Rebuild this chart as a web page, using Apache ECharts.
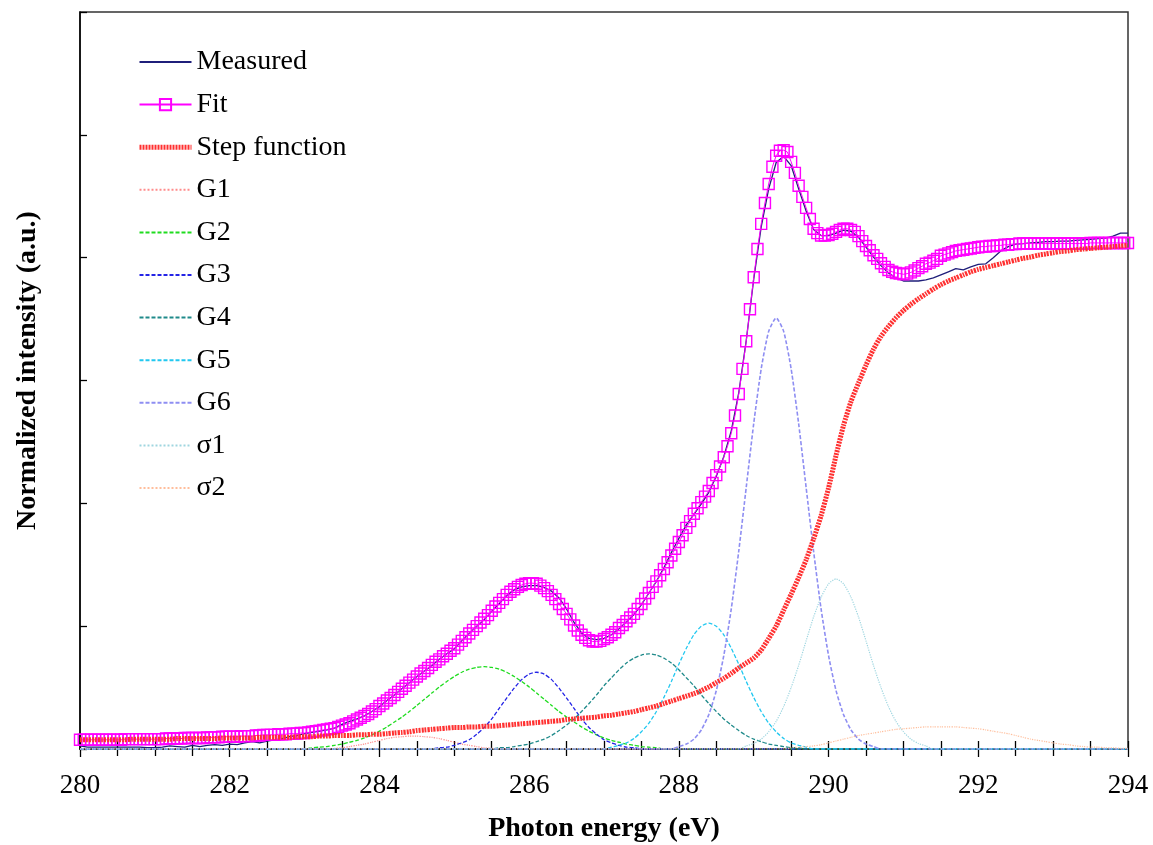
<!DOCTYPE html>
<html>
<head>
<meta charset="utf-8">
<title>C K-edge NEXAFS fit</title>
<script src="https://cdn.jsdelivr.net/npm/echarts@6/dist/echarts.min.js"></script>
<style>
  html, body { margin: 0; padding: 0; background: #ffffff; }
  #chart { width: 1153px; height: 845px; }
</style>
</head>
<body>
<div id="chart"></div>
<script>
// Photon energy range (eV) and tick labels
const energyMin = 280;
const energyMax = 294;
const energyTicks = [280, 282, 284, 286, 288, 290, 292, 294];

// Legend names
const seriesNames = ['Measured', 'Fit', 'Step function', 'G1', 'G2', 'G3', 'G4', 'G5', 'G6', 'σ1', 'σ2'];

// Fit: sampled every 0.05 eV from 280.00 to 294.00
const fitStart = 280, fitStep = 0.05;
const fitValues = [
  0.015,0.015,0.015,0.015,0.015,0.015,0.015,0.015,0.015,0.015,0.015,0.015,0.016,0.016,0.016,0.016,0.016,0.016,0.016,0.016,
  0.016,0.016,0.016,0.017,0.017,0.017,0.017,0.017,0.018,0.018,0.018,0.018,0.018,0.018,0.019,0.019,0.019,0.019,0.020,0.020,
  0.020,0.020,0.020,0.021,0.021,0.021,0.021,0.022,0.022,0.023,0.023,0.023,0.023,0.024,0.024,0.024,0.025,0.025,0.025,0.026,
  0.026,0.027,0.028,0.029,0.030,0.031,0.032,0.033,0.034,0.036,0.038,0.040,0.042,0.045,0.048,0.051,0.054,0.057,0.061,0.065,
  0.070,0.074,0.079,0.083,0.088,0.093,0.098,0.103,0.108,0.113,0.118,0.123,0.127,0.132,0.137,0.142,0.146,0.151,0.155,0.160,
  0.164,0.170,0.176,0.182,0.188,0.194,0.200,0.206,0.212,0.218,0.225,0.232,0.238,0.244,0.251,0.256,0.260,0.264,0.267,0.269,
  0.270,0.270,0.269,0.266,0.262,0.257,0.251,0.244,0.236,0.228,0.220,0.211,0.201,0.193,0.186,0.181,0.177,0.175,0.175,0.176,
  0.179,0.182,0.186,0.190,0.197,0.202,0.208,0.214,0.220,0.228,0.236,0.245,0.254,0.264,0.273,0.283,0.293,0.304,0.315,0.326,
  0.337,0.348,0.360,0.371,0.383,0.392,0.402,0.411,0.420,0.433,0.446,0.460,0.475,0.493,0.514,0.543,0.578,0.619,0.664,0.716,
  0.768,0.814,0.855,0.889,0.920,0.948,0.966,0.974,0.975,0.972,0.956,0.938,0.917,0.899,0.881,0.863,0.847,0.840,0.836,0.836,
  0.837,0.839,0.842,0.845,0.847,0.847,0.845,0.842,0.835,0.827,0.819,0.812,0.804,0.798,0.791,0.785,0.780,0.777,0.775,0.774,
  0.773,0.774,0.776,0.779,0.783,0.786,0.790,0.792,0.795,0.798,0.803,0.805,0.807,0.809,0.811,0.812,0.813,0.814,0.815,0.816,
  0.817,0.818,0.818,0.819,0.819,0.820,0.820,0.821,0.821,0.822,0.822,0.823,0.823,0.823,0.823,0.823,0.823,0.823,0.823,0.823,
  0.823,0.823,0.823,0.823,0.823,0.823,0.823,0.823,0.823,0.823,0.824,0.824,0.824,0.824,0.824,0.824,0.824,0.824,0.824,0.824,
  0.824
];

// Measured spectrum: every 0.1 eV from 280.0 to 294.0
const measuredStart = 280, measuredStep = 0.1;
const measuredValues = [
  0.005,0.003,0.003,0.003,0.003,0.003,0.003,0.003,0.003,0.002,
  0.002,0.003,0.005,0.004,0.003,0.006,0.004,0.006,0.007,0.006,
  0.008,0.007,0.010,0.012,0.010,0.013,0.015,0.017,0.020,0.022,
  0.025,0.027,0.029,0.031,0.034,0.040,0.045,0.049,0.054,0.061,
  0.069,0.079,0.088,0.098,0.108,0.118,0.127,0.136,0.146,0.155,
  0.163,0.176,0.188,0.200,0.211,0.224,0.237,0.250,0.259,0.264,
  0.266,0.266,0.263,0.257,0.246,0.228,0.206,0.189,0.180,0.178,
  0.180,0.186,0.196,0.207,0.219,0.235,0.254,0.273,0.295,0.320,
  0.343,0.365,0.382,0.399,0.418,0.444,0.476,0.518,0.580,0.665,
  0.765,0.850,0.912,0.955,0.965,0.950,0.912,0.876,0.846,0.836,
  0.836,0.840,0.845,0.843,0.833,0.817,0.801,0.787,0.775,0.767,
  0.762,0.762,0.762,0.764,0.767,0.772,0.777,0.782,0.780,0.785,
  0.789,0.790,0.800,0.811,0.818,0.822,0.823,0.824,0.825,0.826,
  0.826,0.827,0.827,0.828,0.829,0.830,0.831,0.832,0.835,0.840,
  0.840
];

// Step function (edge jump): every 0.1 eV from 280.0 to 294.0
const stepStart = 280, stepStep = 0.1;
const stepValues = [
  0.015,0.015,0.015,0.015,0.015,0.015,0.015,0.016,0.016,0.016,
  0.016,0.016,0.016,0.017,0.017,0.017,0.017,0.017,0.017,0.018,
  0.018,0.018,0.018,0.018,0.019,0.019,0.019,0.019,0.019,0.020,
  0.020,0.020,0.021,0.021,0.022,0.022,0.022,0.023,0.023,0.024,
  0.024,0.025,0.026,0.027,0.028,0.030,0.031,0.032,0.033,0.034,
  0.035,0.035,0.036,0.036,0.037,0.037,0.038,0.039,0.040,0.041,
  0.042,0.043,0.044,0.045,0.046,0.048,0.049,0.050,0.051,0.052,
  0.054,0.055,0.057,0.059,0.061,0.064,0.067,0.070,0.074,0.078,
  0.082,0.086,0.090,0.095,0.101,0.108,0.115,0.123,0.132,0.140,
  0.148,0.161,0.180,0.200,0.226,0.252,0.279,0.308,0.342,0.380,
  0.425,0.478,0.527,0.566,0.596,0.625,0.651,0.672,0.688,0.702,
  0.714,0.724,0.733,0.741,0.749,0.756,0.762,0.767,0.772,0.777,
  0.781,0.784,0.787,0.790,0.793,0.796,0.799,0.801,0.804,0.806,
  0.808,0.810,0.811,0.813,0.814,0.815,0.816,0.817,0.818,0.819,
  0.820
];

// Peak components, every 0.1 eV starting at the given energy
const componentStep = 0.1;
const g1Start = 283.3;
const g1Values = [0,0.001,0.002,0.004,0.006,0.008,0.011,0.014,0.017,0.019,0.020,0.021,0.021,0.020,0.019,0.017,0.014,0.011,0.008,0.006,0.004,0.002,0.001,0];
const g2Start = 283.0;
const g2Values = [0,0.002,0.003,0.004,0.006,0.008,0.011,0.014,0.018,0.023,0.029,0.036,0.044,0.052,0.061,0.071,0.081,0.091,0.101,0.110,0.118,0.125,0.130,0.133,
  0.134,
  0.133,0.130,0.125,0.118,0.110,0.101,0.091,0.081,0.071,0.061,0.052,0.044,0.036,0.029,0.023,0.018,0.014,0.011,0.008,0.006,0.004,0.003,0.002,0];
const g3Start = 284.7;
const g3Values = [0,0.002,0.003,0.006,0.010,0.015,0.024,0.035,0.049,0.066,0.083,0.099,0.113,0.122,
  0.125,
  0.122,0.113,0.099,0.083,0.066,0.049,0.035,0.024,0.015,0.010,0.006,0.003,0.002,0];
const g4Start = 285.5;
const g4Values = [0,0.002,0.002,0.004,0.006,0.008,0.012,0.016,0.022,0.030,0.039,0.049,0.061,0.074,0.088,0.103,0.116,0.129,0.140,0.148,0.153,
  0.155,
  0.153,0.148,0.140,0.129,0.116,0.103,0.088,0.074,0.061,0.049,0.039,0.030,0.022,0.016,0.012,0.008,0.006,0.004,0.002,0.002,0];
const g5Start = 287.0;
const g5Values = [0,0.003,0.006,0.010,0.017,0.028,0.042,0.061,0.084,0.110,0.138,0.164,0.186,0.200,
  0.205,
  0.200,0.186,0.164,0.138,0.110,0.084,0.061,0.042,0.028,0.017,0.010,0.006,0.003,0];
const g6Start = 287.9;
const g6Values = [0,0.004,0.008,0.016,0.031,0.056,0.095,0.152,0.228,0.322,0.426,0.530,0.619,0.680,
  0.702,
  0.680,0.619,0.530,0.426,0.322,0.228,0.152,0.095,0.056,0.031,0.016,0.008,0.004,0];
const s1Start = 288.8;
const s1Values = [0,0.005,0.009,0.016,0.028,0.045,0.069,0.100,0.136,0.176,0.215,0.247,0.269,
  0.277,
  0.269,0.247,0.215,0.176,0.136,0.100,0.069,0.045,0.028,0.016,0.009,0.005,0];
const s2Start = 289.4;
const s2Values = [0,0.002,0.003,0.004,0.005,0.007,
  0.010,0.013,0.016,0.019,0.022,0.024,0.026,0.028,0.030,0.032,
  0.033,0.034,0.035,0.036,0.036,0.036,0.036,0.036,0.035,0.034,
  0.033,0.031,0.029,0.027,0.025,0.022,0.019,0.016,0.014,0.012,
  0.010,0.008,0.007,0.005,0.004,0.003,0.003,0.002,0.002,0.001,
  0.001];

// Pair a regularly sampled value list with its energies
function sampled(start, step, values) {
  return values.map((v, i) => [Math.round((start + i * step) * 1000) / 1000, v]);
}
// Components sit on a zero baseline across the whole energy window
function component(start, values) {
  const pts = sampled(start, componentStep, values);
  if (pts[0][0] > energyMin) pts.unshift([energyMin, 0]);
  if (pts[pts.length - 1][0] < energyMax) pts.push([energyMax, 0]);
  return pts;
}

const serif = 'Liberation Serif';
const stepColor = '#ff3030';
const stepLine = { color: stepColor, width: 5, type: [2, 1] };

function compSeries(name, start, values, color, type, width) {
  return {
    name: name,
    type: 'line',
    data: component(start, values),
    symbol: 'none',
    smooth: 0.2,
    lineStyle: { color: color, width: width, type: type },
    itemStyle: { color: color },
    z: 4
  };
}

// Legend entries: only the fit keeps a marker in its key
const hiddenMarker = { color: 'rgba(0,0,0,0)', borderWidth: 0, opacity: 0 };
const legendData = seriesNames.map(n => {
  if (n === 'Fit') return { name: n };
  if (n === 'Step function') return { name: n, itemStyle: hiddenMarker, lineStyle: stepLine };
  return { name: n, itemStyle: hiddenMarker };
});

const chart = echarts.init(document.getElementById('chart'), null, { renderer: 'canvas' });

const tickStyle = { color: '#000', width: 1.3 };

chart.setOption({
  animation: false,
  backgroundColor: '#ffffff',
  grid: {
    left: 80, right: 25, top: 12, bottom: 96,
    outerBoundsMode: 'none',
    containLabel: false,
    show: true, borderColor: '#333', borderWidth: 1.5, backgroundColor: 'transparent'
  },
  legend: {
    orient: 'vertical',
    left: 137,
    top: 48,
    padding: 0,
    itemWidth: 52,
    itemHeight: 14,
    itemGap: 14.6,
    selectedMode: false,
    data: legendData,
    textStyle: { fontFamily: serif, fontSize: 28, color: '#000', lineHeight: 28 }
  },
  xAxis: [
    {
      type: 'value',
      position: 'bottom',
      min: energyMin, max: energyMax, interval: 2,
      name: 'Photon energy (eV)',
      nameLocation: 'middle',
      nameGap: 66,
      nameTextStyle: { fontFamily: serif, fontSize: 28, fontWeight: 'bold', color: '#000' },
      axisLine: { show: true, lineStyle: { color: '#000', width: 1.5 } },
      axisTick: { show: true, inside: false, length: 8, lineStyle: tickStyle },
      minorTick: { show: true, splitNumber: 4, length: 7, lineStyle: tickStyle },
      axisLabel: {
        fontFamily: serif, fontSize: 27, color: '#000', margin: 23,
        formatter: v => energyTicks.indexOf(v) >= 0 ? String(v) : ''
      },
      splitLine: { show: false },
      minorSplitLine: { show: false }
    },
    {
      type: 'value',
      position: 'bottom',
      min: energyMin, max: energyMax, interval: 2,
      axisLine: { show: false },
      axisTick: { show: true, inside: true, length: 8, lineStyle: tickStyle },
      minorTick: { show: true, splitNumber: 4, length: 8, lineStyle: tickStyle },
      axisLabel: { show: false },
      splitLine: { show: false }
    }
  ],
  yAxis: {
    type: 'value',
    min: 0, max: 1.2, interval: 0.2,
    name: 'Normalized intensity (a.u.)',
    nameLocation: 'middle',
    nameRotate: 90,
    nameGap: 38,
    nameTextStyle: { fontFamily: serif, fontSize: 28, fontWeight: 'bold', color: '#000', padding: [0, 0, 0, 20] },
    axisLine: { show: true, lineStyle: { color: '#000', width: 1.5 } },
    axisTick: { show: true, inside: true, length: 7, lineStyle: tickStyle },
    axisLabel: { show: false },
    splitLine: { show: false }
  },
  series: [
    {
      name: 'Measured',
      type: 'line',
      data: sampled(measuredStart, measuredStep, measuredValues),
      symbol: 'none',
      lineStyle: { color: '#1f1f7a', width: 1.3 },
      itemStyle: { color: '#1f1f7a' },
      z: 2
    },
    {
      name: 'Fit',
      type: 'line',
      data: sampled(fitStart, fitStep, fitValues),
      symbol: 'rect',
      symbolSize: 11,
      showSymbol: true,
      showAllSymbol: true,
      lineStyle: { color: '#ff00ff', width: 1 },
      itemStyle: { color: 'rgba(255,255,255,0)', borderColor: '#ff00ff', borderWidth: 1.4 },
      z: 3
    },
    {
      name: 'Step function',
      type: 'line',
      data: sampled(stepStart, stepStep, stepValues),
      symbol: 'none',
      smooth: 0.2,
      lineStyle: stepLine,
      itemStyle: { color: stepColor },
      z: 5
    },
    compSeries('G1', g1Start, g1Values, '#ff8c8c', 'dotted', 1.2),
    compSeries('G2', g2Start, g2Values, '#1fdc1f', [4, 2], 1.3),
    compSeries('G3', g3Start, g3Values, '#2424e6', [4, 2], 1.3),
    compSeries('G4', g4Start, g4Values, '#1f8a8a', [4, 2], 1.3),
    compSeries('G5', g5Start, g5Values, '#22c8f0', [4, 2], 1.3),
    compSeries('G6', g6Start, g6Values, '#8e8ef2', [4, 2], 1.6),
    compSeries('σ1', s1Start, s1Values, '#9fd6e0', 'dotted', 1.2),
    compSeries('σ2', s2Start, s2Values, '#ffbe9c', 'dotted', 1.2)
  ]
});
</script>
</body>
</html>
